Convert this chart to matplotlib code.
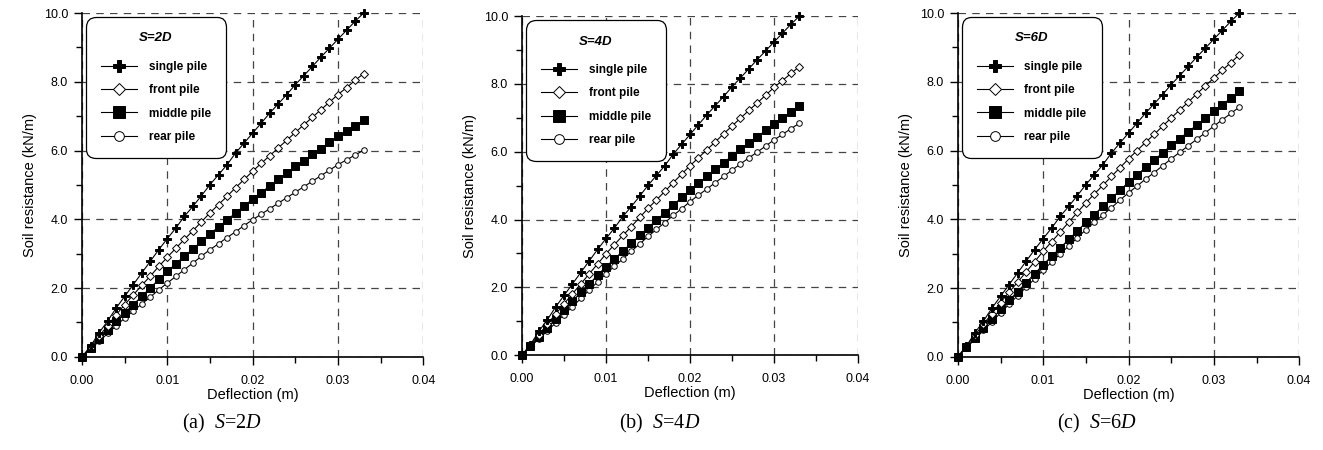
import matplotlib
matplotlib.use("Agg")
import matplotlib.pyplot as plt
from matplotlib.ticker import MultipleLocator, FormatStrFormatter

plt.rcParams['font.family'] = ['Liberation Sans', 'DejaVu Sans']
plt.rcParams['mathtext.fontset'] = 'custom'
plt.rcParams['mathtext.it'] = 'Liberation Serif:italic'
plt.rcParams['mathtext.rm'] = 'Liberation Serif'

# deflection (m), 0.000 .. 0.033
deflection = [i / 1000.0 for i in range(34)]

single_pile = [0.00, 0.31, 0.70, 1.04, 1.42, 1.76, 2.10, 2.44, 2.78, 3.12, 3.44, 3.75,
               4.09, 4.38, 4.69, 5.01, 5.30, 5.59, 5.93, 6.22, 6.51, 6.80, 7.09, 7.36,
               7.63, 7.92, 8.18, 8.45, 8.72, 8.98, 9.24, 9.50, 9.76, 10.00]

# S=2D
front_2d = [0.00, 0.29, 0.60, 0.91, 1.22, 1.52, 1.80, 2.08, 2.35, 2.63, 2.90, 3.16,
            3.42, 3.67, 3.93, 4.19, 4.43, 4.67, 4.92, 5.16, 5.40, 5.63, 5.85, 6.08,
            6.30, 6.53, 6.75, 6.97, 7.19, 7.41, 7.63, 7.83, 8.04, 8.24]
middle_2d = [0.00, 0.26, 0.52, 0.77, 1.03, 1.28, 1.52, 1.76, 2.01, 2.25, 2.49, 2.71,
             2.93, 3.14, 3.36, 3.58, 3.78, 3.98, 4.19, 4.39, 4.59, 4.78, 4.97, 5.16,
             5.35, 5.54, 5.71, 5.89, 6.06, 6.24, 6.41, 6.57, 6.72, 6.88]
rear_2d = [0.00, 0.23, 0.45, 0.68, 0.90, 1.13, 1.33, 1.54, 1.74, 1.95, 2.15, 2.34,
           2.54, 2.73, 2.93, 3.12, 3.29, 3.47, 3.64, 3.82, 3.99, 4.15, 4.31, 4.47,
           4.63, 4.79, 4.95, 5.11, 5.27, 5.43, 5.59, 5.73, 5.87, 6.01]

# S=4D
front_4d = [0.00, 0.30, 0.60, 0.91, 1.21, 1.51, 1.81, 2.10, 2.40, 2.69, 2.99, 3.26,
            3.53, 3.79, 4.06, 4.33, 4.58, 4.83, 5.09, 5.34, 5.59, 5.82, 6.06, 6.29,
            6.53, 6.76, 6.99, 7.22, 7.44, 7.67, 7.90, 8.10, 8.31, 8.51]
middle_4d = [0.00, 0.27, 0.54, 0.80, 1.07, 1.34, 1.59, 1.85, 2.10, 2.36, 2.61, 2.84,
             3.07, 3.30, 3.53, 3.76, 3.98, 4.20, 4.43, 4.65, 4.87, 5.07, 5.27, 5.48,
             5.68, 5.88, 6.07, 6.26, 6.44, 6.63, 6.82, 7.00, 7.17, 7.35]
rear_4d = [0.00, 0.24, 0.48, 0.71, 0.95, 1.19, 1.43, 1.67, 1.92, 2.16, 2.40, 2.62,
           2.84, 3.06, 3.28, 3.50, 3.71, 3.91, 4.12, 4.32, 4.53, 4.72, 4.90, 5.09,
           5.27, 5.46, 5.64, 5.82, 5.99, 6.17, 6.35, 6.51, 6.68, 6.84]

# S=6D
front_6d = [0.00, 0.32, 0.63, 0.95, 1.26, 1.58, 1.88, 2.17, 2.47, 2.77, 3.07, 3.35,
            3.63, 3.92, 4.20, 4.48, 4.74, 4.99, 5.25, 5.50, 5.76, 6.00, 6.24, 6.47,
            6.71, 6.95, 7.18, 7.41, 7.65, 7.88, 8.11, 8.34, 8.56, 8.79]
middle_6d = [0.00, 0.28, 0.55, 0.83, 1.10, 1.38, 1.64, 1.90, 2.16, 2.42, 2.68, 2.93,
             3.17, 3.42, 3.66, 3.91, 4.14, 4.38, 4.61, 4.85, 5.08, 5.29, 5.51, 5.72,
             5.94, 6.15, 6.35, 6.55, 6.74, 6.94, 7.14, 7.33, 7.53, 7.72]
rear_6d = [0.00, 0.26, 0.51, 0.77, 1.02, 1.28, 1.53, 1.78, 2.02, 2.27, 2.52, 2.76,
           2.99, 3.23, 3.46, 3.70, 3.91, 4.13, 4.34, 4.56, 4.77, 4.97, 5.17, 5.36,
           5.56, 5.76, 5.95, 6.14, 6.33, 6.52, 6.71, 6.90, 7.08, 7.27]

spacings = ['2', '4', '6']
captions = ['(a)', '(b)', '(c)']
panels = [
    (front_2d, middle_2d, rear_2d),
    (front_4d, middle_4d, rear_4d),
    (front_6d, middle_6d, rear_6d),
]
labels = ['single pile', 'front pile', 'middle pile', 'rear pile']

# marker style per series: (marker, plot size, legend size, face colour)
styles = [('P', 5.8, 8.5, 'black'),
          ('D', 3.6, 6.0, 'white'),
          ('s', 5.2, 9.0, 'black'),
          ('o', 4.0, 7.0, 'white')]

# axes boxes in figure fraction
boxes = [
    [0.062, 0.207, 0.258, 0.764],
    [0.3946, 0.211, 0.254, 0.753],
    [0.724, 0.207, 0.258, 0.764],
]
caption_x = [222 / 1323, 660 / 1323, 1097 / 1323]

fig = plt.figure(figsize=(13.23, 4.5), dpi=100)

for k in range(3):
    ax = fig.add_axes(boxes[k])
    series = [single_pile] + list(panels[k])
    for j in range(4):
        m, ms, _, fc = styles[j]
        ax.plot(deflection, series[j], '-', color='black', lw=0.8, marker=m,
                ms=ms, mfc=fc, mec='black', mew=0.7, clip_on=False,
                zorder=5 - j, label=labels[j])

    ax.set_xlim(0, 0.04)
    ax.set_ylim(0, 10)
    ax.xaxis.set_major_locator(MultipleLocator(0.01))
    ax.xaxis.set_minor_locator(MultipleLocator(0.005))
    ax.yaxis.set_major_locator(MultipleLocator(2))
    ax.yaxis.set_minor_locator(MultipleLocator(1))
    ax.xaxis.set_major_formatter(FormatStrFormatter('%.2f'))
    ax.yaxis.set_major_formatter(FormatStrFormatter('%.1f'))
    ax.tick_params(which='major', direction='out', length=6, width=1,
                   labelsize=9)
    ax.tick_params(axis='x', which='major', pad=7)
    ax.tick_params(axis='y', which='major', pad=4)
    ax.tick_params(which='minor', direction='out', length=4, width=1)

    for side in ['top', 'right']:
        ax.spines[side].set_visible(False)
    for side in ['left', 'bottom']:
        ax.spines[side].set_linewidth(1.2)

    ax.grid(True, which='major', linestyle=(0, (6, 5)), color='#444444', lw=0.9)
    ax.set_axisbelow(True)

    ax.set_xlabel('Deflection (m)', fontsize=10.5, labelpad=1)
    ax.set_ylabel('Soil resistance (kN/m)', fontsize=10.5, labelpad=5)

    leg = ax.legend(loc='upper left', bbox_to_anchor=(0.005, 0.995),
                    title='S=' + spacings[k] + 'D', fancybox=True,
                    edgecolor='black', framealpha=1,
                    handlelength=3.0, handletextpad=1.0, labelspacing=0.95,
                    borderpad=1.3, borderaxespad=0.2,
                    prop={'weight': 'bold', 'size': 8.5})
    for j, h in enumerate(leg.legend_handles):
        h.set_markersize(styles[j][2])
    leg.get_title().set_fontweight('bold')
    leg.get_title().set_fontstyle('italic')
    leg.get_title().set_fontsize(9.5)
    leg._legend_box.sep = 12
    leg.get_frame().set_linewidth(0.9)
    leg.get_frame().set_boxstyle('round,pad=0.0,rounding_size=0.8')
    leg.set_zorder(10)

    fig.text(caption_x[k], 0.058,
             captions[k] + r'  $S$=' + spacings[k] + r'$D$',
             ha='center', va='center', fontsize=14.5, family='Liberation Serif')

fig.savefig('out.png', dpi=100)
